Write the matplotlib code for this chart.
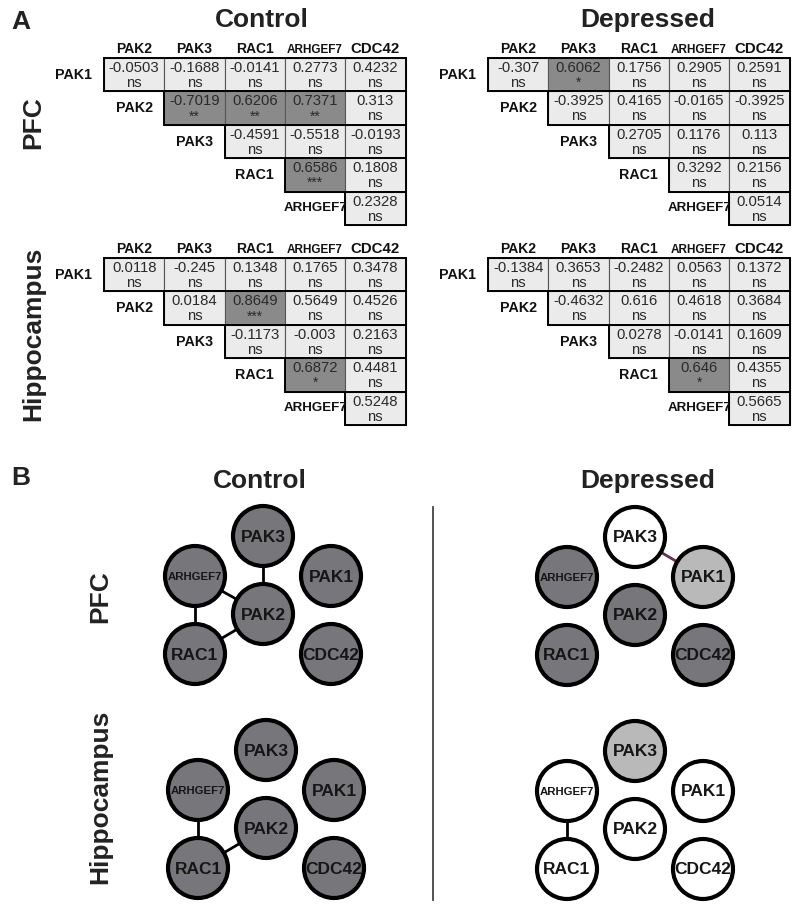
import matplotlib
matplotlib.use("Agg")
import matplotlib.pyplot as plt
from matplotlib.patches import Rectangle, Circle

plt.rcParams['font.family'] = ['Liberation Sans', 'DejaVu Sans']

# ---------------------------------------------------------------- data
genes = ["PAK1", "PAK2", "PAK3", "RAC1", "ARHGEF7", "CDC42"]

# upper triangle of correlation matrix, row by row (row gene vs later genes)
ctrl_pfc_r = [[-0.0503, -0.1688, -0.0141, 0.2773, 0.4232],
              [-0.7019, 0.6206, 0.7371, 0.313],
              [-0.4591, -0.5518, -0.0193],
              [0.6586, 0.1808],
              [0.2328]]
ctrl_pfc_sig = [["ns", "ns", "ns", "ns", "ns"],
                ["**", "**", "**", "ns"],
                ["ns", "ns", "ns"],
                ["***", "ns"],
                ["ns"]]

dep_pfc_r = [[-0.307, 0.6062, 0.1756, 0.2905, 0.2591],
             [-0.3925, 0.4165, -0.0165, -0.3925],
             [0.2705, 0.1176, 0.113],
             [0.3292, 0.2156],
             [0.0514]]
dep_pfc_sig = [["ns", "*", "ns", "ns", "ns"],
               ["ns", "ns", "ns", "ns"],
               ["ns", "ns", "ns"],
               ["ns", "ns"],
               ["ns"]]

ctrl_hip_r = [[0.0118, -0.245, 0.1348, 0.1765, 0.3478],
              [0.0184, 0.8649, 0.5649, 0.4526],
              [-0.1173, -0.003, 0.2163],
              [0.6872, 0.4481],
              [0.5248]]
ctrl_hip_sig = [["ns", "ns", "ns", "ns", "ns"],
                ["ns", "***", "ns", "ns"],
                ["ns", "ns", "ns"],
                ["*", "ns"],
                ["ns"]]

dep_hip_r = [[-0.1384, 0.3653, -0.2482, 0.0563, 0.1372],
             [-0.4632, 0.616, 0.4618, 0.3684],
             [0.0278, -0.0141, 0.1609],
             [0.646, 0.4355],
             [0.5665]]
dep_hip_sig = [["ns", "ns", "ns", "ns", "ns"],
               ["ns", "ns", "ns", "ns"],
               ["ns", "ns", "ns"],
               ["*", "ns"],
               ["ns"]]

# node shading in the networks (per gene, same order as genes)
ctrl_pfc_fill = ["dark", "dark", "dark", "dark", "dark", "dark"]
dep_pfc_fill = ["light", "dark", "white", "dark", "dark", "dark"]
ctrl_hip_fill = ["dark", "dark", "dark", "dark", "dark", "dark"]
dep_hip_fill = ["white", "white", "light", "white", "white", "white"]

# ---------------------------------------------------------------- style
CW, CH = 60.3, 33.4
CELL_LIGHT = "#ebebeb"
CELL_DARK = "#8a8a8a"
TXT = "#2a2a2a"
FILLS = {"dark": "#77777b", "light": "#b9b9b9", "white": "#ffffff"}
NODE_R = 30
NODE_OFF = {"PAK1": (68, -38), "PAK2": (0, 0), "PAK3": (0, -78),
            "RAC1": (-68, 40), "ARHGEF7": (-68, -38), "CDC42": (68, 40)}


def hdr_size(g):
    if g == "ARHGEF7":
        return 8.5
    if g == "CDC42":
        return 10.8
    return 10


def draw_table(ax, left, top, vals, sigs):
    cols = genes[1:]
    for j, g in enumerate(cols):
        ax.text(left + (j + 0.5) * CW, top - 2, g, ha="center", va="bottom",
                fontsize=hdr_size(g), fontweight="bold", color="#111")
    for i in range(5):
        y0 = top + i * CH
        rg = genes[i]
        ax.text(left + (i - 0.5) * CW, y0 + CH / 2, rg, ha="center", va="center",
                fontsize=9.6 if rg == "ARHGEF7" else 10.3, fontweight="bold", color="#111")
        for k, (v, s) in enumerate(zip(vals[i], sigs[i])):
            x0 = left + (i + k) * CW
            fc = CELL_LIGHT if s == "ns" else CELL_DARK
            ax.add_patch(Rectangle((x0, y0), CW, CH, facecolor=fc,
                                   edgecolor="#555", lw=0.8))
            ax.text(x0 + CW / 2, y0 + 10, str(v), ha="center", va="center",
                    fontsize=10.7, color=TXT)
            if s == "ns":
                ax.text(x0 + CW / 2, y0 + 25, s, ha="center", va="center",
                        fontsize=10.7, color=TXT)
            else:
                ax.text(x0 + CW / 2, y0 + 25, s, ha="center", va="center",
                        fontsize=10, color=TXT)
        ax.add_patch(Rectangle((left + i * CW, y0), (5 - i) * CW, CH,
                               facecolor="none", edgecolor="black", lw=1.4))


def draw_network(ax, cx, cy, sigs, fills, edge_color="black"):
    pos = {g: (cx + NODE_OFF[g][0], cy + NODE_OFF[g][1]) for g in genes}
    for i in range(5):
        for k, s in enumerate(sigs[i]):
            if s != "ns":
                a, b = genes[i], genes[i + 1 + k]
                ax.plot([pos[a][0], pos[b][0]], [pos[a][1], pos[b][1]],
                        color=edge_color, lw=2, zorder=1)
    for g, f in zip(genes, fills):
        x, y = pos[g]
        ax.add_patch(Circle((x, y), NODE_R, facecolor=FILLS[f],
                            edgecolor="black", lw=3, zorder=2))
        ax.text(x, y + 1, g, ha="center", va="center", zorder=3,
                fontsize=8.2 if g == "ARHGEF7" else 12.5,
                fontweight="bold", color="#161616")


def main():
    fig = plt.figure(figsize=(8, 9.11), dpi=100)
    ax = fig.add_axes([0, 0, 1, 1])
    ax.set_xlim(0, 800)
    ax.set_ylim(911, 0)
    ax.axis("off")

    big = dict(fontsize=19, fontweight="bold", color="#222")

    # panel A
    ax.text(11, 22, "A", ha="left", va="center", **big)
    ax.text(262, 20, "Control", ha="center", va="center", **big)
    ax.text(648, 20, "Depressed", ha="center", va="center", **big)
    ax.text(33, 123, "PFC", ha="center", va="center", rotation=90, **big)
    ax.text(33, 334, "Hippocampus", ha="center", va="center", rotation=90, **big)

    draw_table(ax, 104, 58, ctrl_pfc_r, ctrl_pfc_sig)
    draw_table(ax, 488, 58, dep_pfc_r, dep_pfc_sig)
    draw_table(ax, 104, 258, ctrl_hip_r, ctrl_hip_sig)
    draw_table(ax, 488, 258, dep_hip_r, dep_hip_sig)

    # panel B
    ax.text(11, 478, "B", ha="left", va="center", **big)
    ax.text(260, 481, "Control", ha="center", va="center", **big)
    ax.text(648, 481, "Depressed", ha="center", va="center", **big)
    ax.text(100, 597, "PFC", ha="center", va="center", rotation=90, **big)
    ax.text(100, 797, "Hippocampus", ha="center", va="center", rotation=90, **big)
    ax.plot([433, 433], [507, 900], color="#444", lw=1.3)

    draw_network(ax, 263, 614, ctrl_pfc_sig, ctrl_pfc_fill)
    draw_network(ax, 635, 615, dep_pfc_sig, dep_pfc_fill, edge_color="#6a3050")
    draw_network(ax, 266, 828, ctrl_hip_sig, ctrl_hip_fill)
    draw_network(ax, 635, 829, dep_hip_sig, dep_hip_fill)

    fig.savefig("out.png", dpi=100)


if __name__ == "__main__":
    main()
